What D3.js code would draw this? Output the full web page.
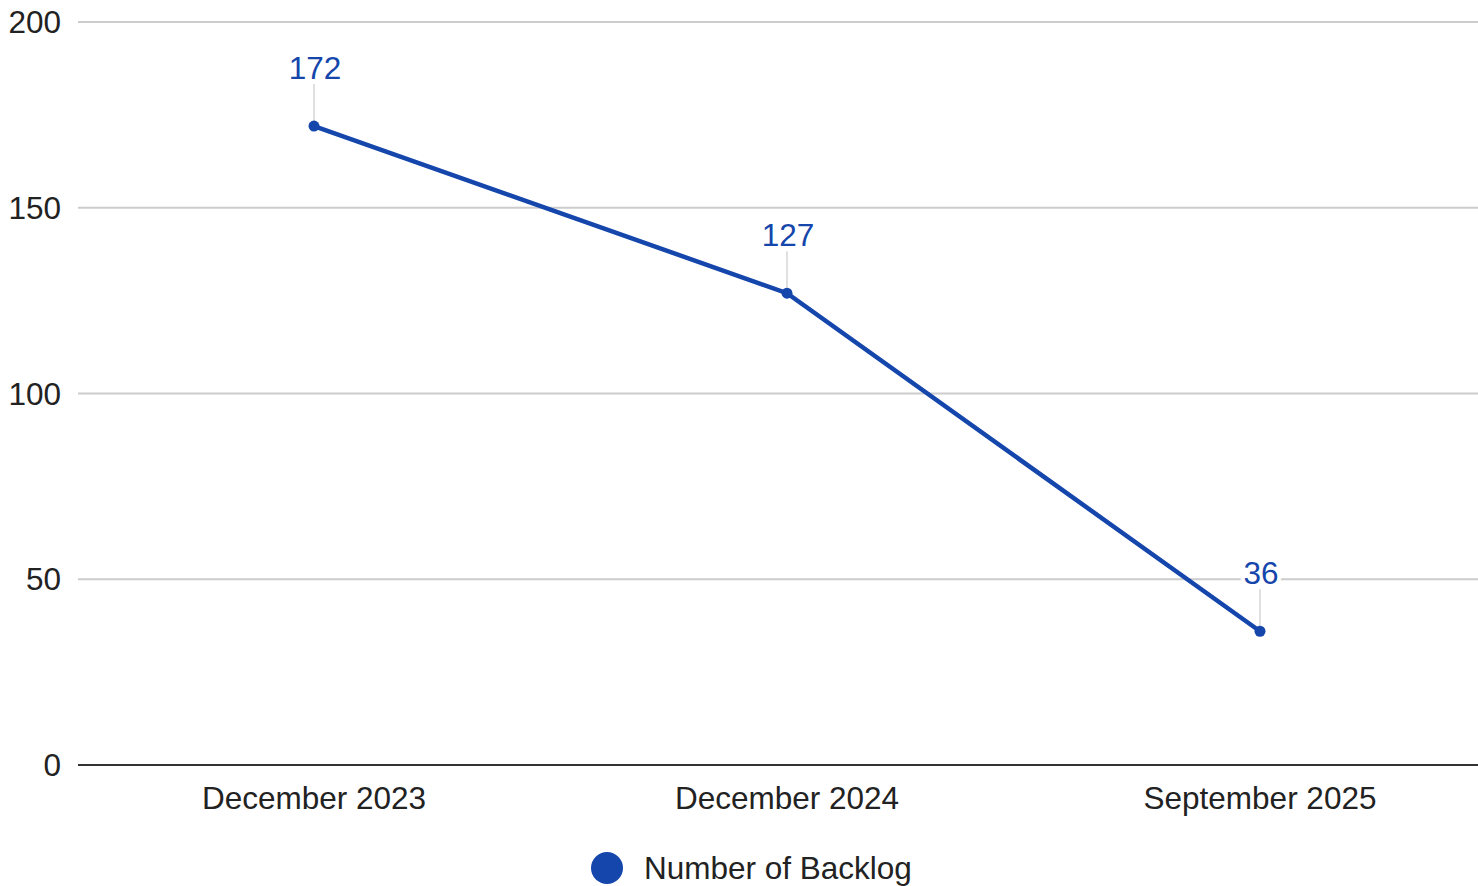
<!DOCTYPE html>
<html><head><meta charset="utf-8">
<script src="https://cdn.jsdelivr.net/npm/d3@7"></script>
<style>body{margin:0;background:#fff}svg{display:block}text{font-family:"Liberation Sans",Arial,sans-serif}</style>
</head><body>
<svg id="c" width="1478" height="886"></svg>
<script>
const categories = ["December 2023", "December 2024", "September 2025"];
const values = [172, 127, 36];
const yTicks = [0, 50, 100, 150, 200];
const seriesName = "Number of Backlog";

const color = "#1546ac";
const fs = 31.5;
const svg = d3.select("#c");
const x = d3.scalePoint().domain(categories).range([314, 1260]);
const y = d3.scaleLinear().domain([0, 200]).range([765, 22]);

// gridlines
svg.append("g").selectAll("line").data(yTicks.filter(d => d > 0)).join("line")
  .attr("x1", 78).attr("x2", 1478)
  .attr("y1", d => y(d)).attr("y2", d => y(d))
  .attr("stroke", "#cccccc").attr("stroke-width", 2);

// y labels
svg.append("g").selectAll("text").data(yTicks).join("text")
  .attr("x", 61).attr("y", d => y(d)).attr("dy", "0.35em")
  .attr("text-anchor", "end").attr("font-size", fs).attr("fill", "#222")
  .text(d => d);

// baseline
svg.append("line").attr("x1", 78).attr("x2", 1478).attr("y1", y(0)).attr("y2", y(0))
  .attr("stroke", "#333").attr("stroke-width", 2);

// x labels
svg.append("g").selectAll("text").data(categories).join("text")
  .attr("x", d => x(d)).attr("y", 809).attr("text-anchor", "middle")
  .attr("font-size", fs).attr("fill", "#222").text(d => d);

const pts = categories.map((c, i) => ({c, v: values[i]}));

// leader lines
svg.append("g").selectAll("line").data(pts).join("line")
  .attr("x1", d => x(d.c)).attr("x2", d => x(d.c))
  .attr("y1", d => y(d.v) - 42).attr("y2", d => y(d.v))
  .attr("stroke", "#e0e0e0").attr("stroke-width", 2);

// line
svg.append("path").datum(pts)
  .attr("d", d3.line().x(d => x(d.c)).y(d => y(d.v)))
  .attr("fill", "none").attr("stroke", color).attr("stroke-width", 4.5);

svg.append("g").selectAll("circle").data(pts).join("circle")
  .attr("cx", d => x(d.c)).attr("cy", d => y(d.v)).attr("r", 5.5).attr("fill", color);

// value labels with white background
const lg = svg.append("g").selectAll("g").data(pts).join("g")
  .attr("transform", d => `translate(${x(d.c) + 1},${y(d.v) - 58})`);
lg.append("text").attr("text-anchor", "middle").attr("dy", "0.35em")
  .attr("font-size", fs).attr("fill", color)
  .attr("stroke", "#fff").attr("stroke-width", 8).attr("stroke-linejoin", "round")
  .attr("paint-order", "stroke")
  .text(d => d.v);

// legend
svg.append("circle").attr("cx", 607).attr("cy", 868).attr("r", 16).attr("fill", color);
svg.append("text").attr("x", 644).attr("y", 868).attr("dy", "0.35em")
  .attr("font-size", fs).attr("fill", "#222").text(seriesName);
</script>
</body></html>
